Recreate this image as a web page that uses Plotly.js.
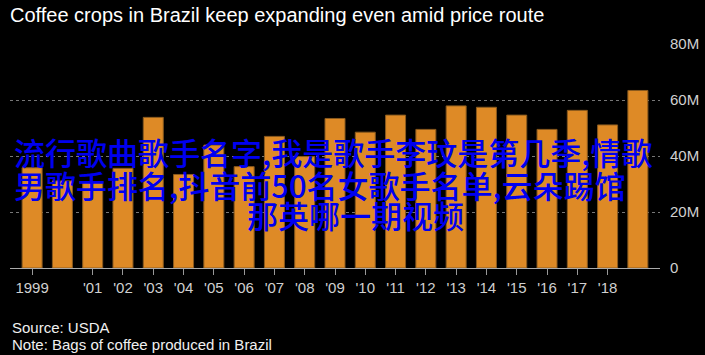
<!DOCTYPE html>
<html>
<head>
<meta charset="utf-8">
<script src="https://cdn.plot.ly/plotly-3.0.1.min.js"></script>
<style>
html,body{margin:0;padding:0;background:#000;}
#chart{width:705px;height:355px;}
</style>
</head>
<body>
<div id="chart"></div>
<script>
// Data (million bags)
const years = [1999,2000,2001,2002,2003,2004,2005,2006,2007,2008,2009,2010,2011,2012,2013,2014,2015,2016,2017,2018,2019];
const bags = [35.8,31.1,30.8,35.6,53.8,33.4,43.9,36.2,47.0,39.8,53.4,48.5,54.6,49.5,57.9,57.4,54.6,49.5,56.3,51.1,63.4];
const xTickVals = [1999,2001,2002,2003,2004,2005,2006,2007,2008,2009,2010,2011,2012,2013,2014,2015,2016,2017,2018];
const xTickText = ["1999","'01","'02","'03","'04","'05","'06","'07","'08","'09","'10","'11","'12","'13","'14","'15","'16","'17","'18"];
const yTickVals = [0,20,40,60,80];
const yTickText = ["0","20M","40M","60M","80M"];
const titleText = "Coffee crops in Brazil keep expanding even amid price route";
const sourceText = "Source: USDA";
const noteText = "Note: Bags of coffee produced in Brazil";
const overlayLines = [
  "流行歌曲歌手名字,我是歌手李玟是第几季,情歌",
  "男歌手排名,抖音前50名女歌手名单,云朵踢馆",
  "那英哪一期视频"
];

const font = "Liberation Sans, Arial, sans-serif";
const cjk = "Noto Sans CJK SC, sans-serif";

const trace = {
  type: 'bar',
  x: years,
  y: bags.map(v => v * 1e6),
  width: 0.66,
  marker: {color: '#de8a26', line: {color: '#8a5a1e', width: 1}},
  hoverinfo: 'skip'
};

const W = 705, H = 355, mL = 10, mR = 45, mT = 44, mB = 87;
const pw = W - mL - mR, ph = H - mT - mB;
const px2x = p => (p - mL) / pw;
const py2y = p => (H - mB - p) / ph;

const overlayFont = {family: cjk, size: 31, color: '#0000f0', weight: 500};

const layout = {
  width: W, height: H,
  margin: {l: mL, r: mR, t: mT, b: mB, pad: 0},
  paper_bgcolor: '#000', plot_bgcolor: '#000',
  showlegend: false,
  bargap: 0.34,
  title: {
    text: titleText,
    font: {family: font, size: 20, color: '#ffffff'},
    x: 10 / W, xanchor: 'left', xref: 'container',
    y: 1 - 15 / H, yanchor: 'middle', yref: 'container'
  },
  xaxis: {
    type: 'linear',
    range: [1998.27, 2019.73],
    tickvals: xTickVals, ticktext: xTickText,
    ticks: 'outside', ticklen: 6, tickcolor: '#999', tickwidth: 1,
    showgrid: false, zeroline: false,
    showline: true, linecolor: '#aaa', linewidth: 1,
    tickfont: {family: font, size: 15, color: '#d0d0d0'},
    fixedrange: true
  },
  yaxis: {
    side: 'right',
    range: [0, 80e6],
    tickvals: yTickVals.map(v => v * 1e6), ticktext: yTickText,
    ticks: '', showgrid: true, gridcolor: '#777', griddash: 'dot', gridwidth: 1,
    zeroline: false, showline: false,
    tickfont: {family: font, size: 15, color: '#d0d0d0'},
    ticklabelstandoff: 9,
    fixedrange: true
  },
  annotations: [
    {text: sourceText, xref: 'paper', yref: 'paper', x: px2x(10), y: py2y(327), xanchor: 'left', yanchor: 'middle', showarrow: false, font: {family: font, size: 15, color: '#f0f0f0'}},
    {text: noteText, xref: 'paper', yref: 'paper', x: px2x(10), y: py2y(344), xanchor: 'left', yanchor: 'middle', showarrow: false, font: {family: font, size: 15, color: '#f0f0f0'}},
    {text: overlayLines[0], xref: 'paper', yref: 'paper', x: px2x(12), y: py2y(151), xanchor: 'left', yanchor: 'middle', showarrow: false, font: overlayFont},
    {text: overlayLines[1], xref: 'paper', yref: 'paper', x: px2x(12), y: py2y(184), xanchor: 'left', yanchor: 'middle', showarrow: false, font: overlayFont},
    {text: overlayLines[2], xref: 'paper', yref: 'paper', x: px2x(245), y: py2y(214), xanchor: 'left', yanchor: 'middle', showarrow: false, font: overlayFont}
  ]
};

Plotly.newPlot('chart', [trace], layout, {displayModeBar: false, staticPlot: true});
</script>
</body>
</html>
